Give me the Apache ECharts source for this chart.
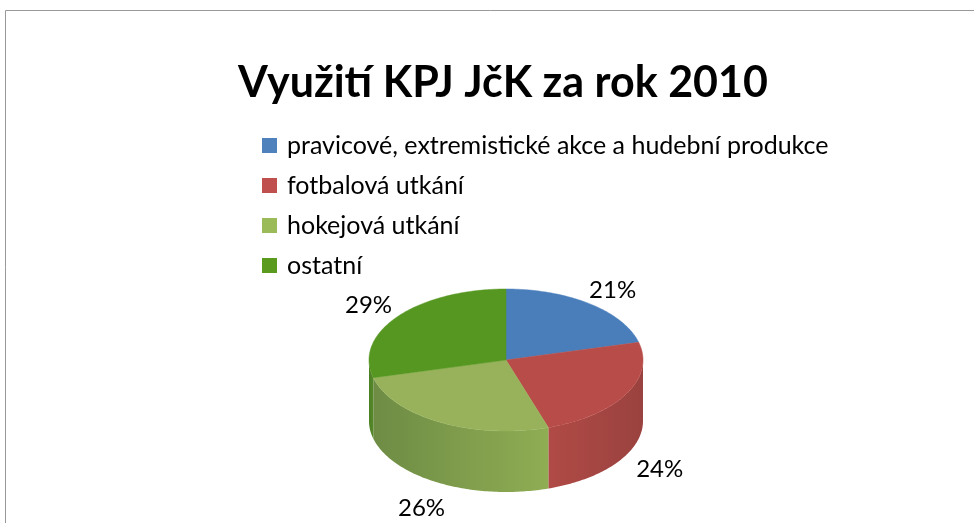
<!DOCTYPE html>
<html>
<head>
<meta charset="utf-8">
<script src="https://cdn.jsdelivr.net/npm/echarts@6/dist/echarts.min.js"></script>
<style>
  html, body { margin: 0; padding: 0; background: #fff; }
  #chart { width: 974px; height: 523px; }
</style>
</head>
<body>
<div id="chart"></div>
<script>
const categories = [
  'pravicové, extremistické akce a hudební produkce',
  'fotbalová utkání',
  'hokejová utkání',
  'ostatní'
]
const values = [21, 24, 26, 29]

// top colour, side gradient left / right
const topColors = ['#4A7EBB', '#B84C49', '#97B25A', '#559720']
const legendColors = ['#4F81BD', '#C0504D', '#9BBB59', '#5A9B1F']
const sideColors = [
  ['#3E6A9E', '#3E6A9E'],
  ['#B04A46', '#9A423F'],
  ['#6E8C44', '#8FAD53'],
  ['#4C7F24', '#55892A']
]

// pie geometry (px)
const cx = 506, cy = 360, rx = 137, ry = 71, depth = 61

const total = values.reduce((a, b) => a + b, 0)

function pt(deg, dy) {
  const r = deg * Math.PI / 180
  return [cx + rx * Math.sin(r), cy - ry * Math.cos(r) + (dy || 0)]
}

function arc(a, b, dy) {
  const pts = []
  const n = Math.max(2, Math.ceil(Math.abs(b - a)))
  for (let i = 0; i <= n; i++) {
    pts.push(pt(a + (b - a) * i / n, dy))
  }
  return pts
}

function makeSeries(idx) {
  let before = 0
  for (let i = 0; i < idx; i++) before += values[i]
  return {
    name: categories[idx],
    type: 'custom',
    coordinateSystem: 'none',
    itemStyle: { color: legendColors[idx] },
    data: [values[idx]],
    renderItem: function (params, api) {
      const v = api.value(0)
      const a = before / total * 360
      const b = (before + v) / total * 360
      const children = []

      // side wall: only the front half is visible (90..270 deg)
      const s = Math.max(a, 90), e = Math.min(b, 270)
      if (e > s) {
        const pts = arc(s, e, 0).concat(arc(e, s, depth))
        children.push({
          type: 'polygon',
          z2: 1,
          shape: { points: pts },
          style: {
            fill: new echarts.graphic.LinearGradient(0, 0, 1, 0, [
              { offset: 0, color: sideColors[idx][0] },
              { offset: 1, color: sideColors[idx][1] }
            ]),
            stroke: null
          }
        })
      }

      // top face
      children.push({
        type: 'polygon',
        z2: 5,
        shape: { points: [[cx, cy]].concat(arc(a, b, 0)) },
        style: { fill: topColors[idx], stroke: topColors[idx], lineWidth: 0.5 }
      })

      // percentage label
      const mid = (a + b) / 2
      const r = mid * Math.PI / 180
      const front = Math.cos(r) < 0
      const lx = cx + rx * (front ? 1.28 : 1.27) * Math.sin(r)
      const ly = cy - ry * (front ? 1.4 : 1.25) * Math.cos(r) + (front ? depth : 0)
      children.push({
        type: 'text',
        z2: 10,
        style: {
          text: Math.round(v / total * 100) + '%',
          x: lx,
          y: ly,
          align: 'center',
          verticalAlign: 'middle',
          fill: '#000',
          fontSize: 24,
          fontFamily: 'Lato'
        }
      })
      return { type: 'group', children: children }
    }
  }
}

const chart = echarts.init(document.getElementById('chart'))
chart.setOption({
  animation: false,
  backgroundColor: '#fff',
  title: {
    text: 'Využití KPJ JčK za rok 2010',
    left: 498,
    textAlign: 'center',
    top: 57,
    textStyle: {
      fontFamily: 'Lato',
      fontWeight: 'bold',
      fontSize: 43,
      color: '#000'
    }
  },
  legend: {
    orient: 'vertical',
    left: 262,
    top: 133,
    padding: 0,
    icon: 'rect',
    itemWidth: 15,
    itemHeight: 15,
    itemGap: 15,
    data: categories,
    textStyle: {
      fontFamily: 'Lato',
      fontSize: 25,
      lineHeight: 25,
      color: '#000',
      padding: [0, 0, 0, 5]
    }
  },
  graphic: [{
    type: 'rect',
    shape: { x: 5.5, y: 10.5, width: 1000, height: 600 },
    style: { fill: null, stroke: '#999', lineWidth: 1 },
    silent: true
  }],
  series: categories.map((c, i) => makeSeries(i))
})
</script>
</body>
</html>
